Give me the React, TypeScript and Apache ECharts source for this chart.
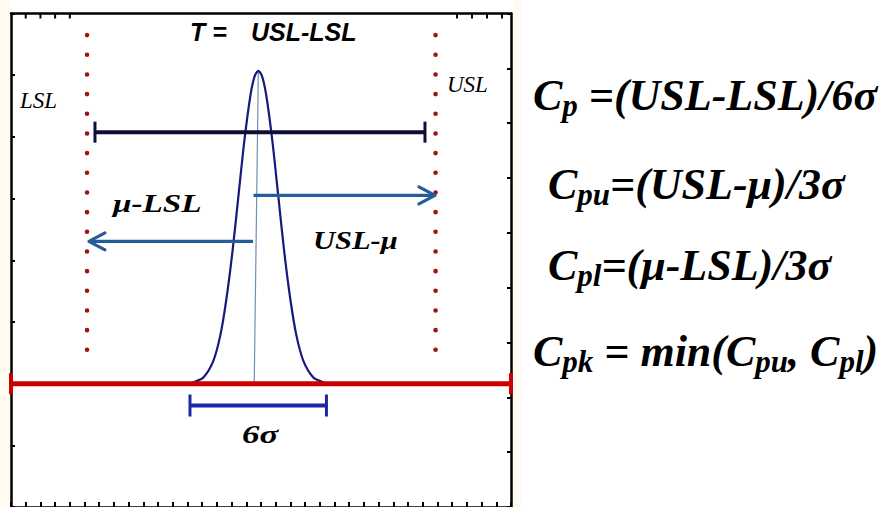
import React, { useEffect, useRef } from "react";
import * as echarts from "echarts";

// ---------- data (axis units) ----------
const xTickMax = 34; // bottom/top axis 0..34
const leftTickMax = 8; // left axis 0..8
const rightTickMax = 9; // right axis 0..9
const topTickValues = [1, 2, 3, 4, 30.33, 31.35, 32.37, 33.39];

// normal curve
const curveX = [12.28, 12.4, 13.08, 13.76, 14.24, 14.64, 15.05, 15.46, 15.87, 16.28, 16.55, 16.82, 17.09, 17.36, 17.77, 18.18, 18.59, 19.0, 19.4, 19.88, 20.56, 21.24, 21.36];
const curveY = [2.0, 2.02, 2.1, 2.37, 2.79, 3.36, 4.12, 5.03, 5.94, 6.67, 6.97, 7.07, 6.97, 6.67, 5.94, 5.03, 4.12, 3.36, 2.79, 2.37, 2.1, 2.02, 2.0];

// mean line: [x, y] top and bottom
const meanLineX = [16.82, 16.54];
const meanLineY = [7.07, 2.0];

// spec limits (dotted verticals)
const limitNames = ["LSL", "USL"];
const limitX = [5.17, 28.87];
const limitTopY = 7.65;
const limitBottomY = 2.26;

// spans [from, to, y]
const toleranceSpan = [5.71, 28.15, 6.077];
const sixSigmaSpan = [12.17, 21.45, 1.645];
const baselineSpan = [0, 34, 2];

// arrows [from, to, y]
const upperArrow = [16.49, 28.83, 5.051];
const lowerArrow = [16.46, 5.3, 4.306];

// texts
const titleLeft = "T =";
const titleRight = "USL-LSL";
const arrowLabels = ["μ-LSL", "USL-μ"];
const sigmaLabel = "6σ";
const formulaLines = [
  "{m|C}{s|p}{m| =(USL-LSL)/6σ}",
  "{m|C}{s|pu}{m|=(USL-μ)/3σ}",
  "{m|C}{s|pl}{m|=(μ-LSL)/3σ}",
  "{m|C}{s|pk}{m| = min(C}{s|pu}{m|, C}{s|pl}{m|)}",
];

// ---------- helpers ----------
function spanSeries(d: number[], color: string, width: number, capHalf: number, capWidth: number, z: number) {
  return {
    type: "custom",
    silent: true,
    z,
    encode: { x: [0, 1], y: 2 },
    data: [d],
    renderItem: (params: any, api: any) => {
      const y = api.value(2);
      const a = api.coord([api.value(0), y]);
      const b = api.coord([api.value(1), y]);
      return {
        type: "group",
        children: [
          { type: "line", shape: { x1: a[0], y1: a[1], x2: b[0], y2: b[1] }, style: { stroke: color, lineWidth: width } },
          { type: "line", shape: { x1: a[0], y1: a[1] - capHalf, x2: a[0], y2: a[1] + capHalf }, style: { stroke: color, lineWidth: capWidth } },
          { type: "line", shape: { x1: b[0], y1: b[1] - capHalf, x2: b[0], y2: b[1] + capHalf }, style: { stroke: color, lineWidth: capWidth } },
        ],
      };
    },
  };
}

function arrowSeries(d: number[], color: string, z: number) {
  return {
    type: "custom",
    silent: true,
    z,
    encode: { x: [0, 1], y: 2 },
    data: [d],
    renderItem: (params: any, api: any) => {
      const y = api.value(2);
      const a = api.coord([api.value(0), y]);
      const b = api.coord([api.value(1), y]);
      const dir = b[0] > a[0] ? 1 : -1;
      const len = 16;
      const half = 8.5;
      return {
        type: "group",
        children: [
          { type: "line", shape: { x1: a[0], y1: a[1], x2: b[0] - dir * 1.5, y2: b[1] }, style: { stroke: color, lineWidth: 3.2 } },
          {
            type: "polyline",
            shape: { points: [[b[0] - dir * len, b[1] - half], [b[0], b[1]], [b[0] - dir * len, b[1] + half]] },
            style: { stroke: color, lineWidth: 3.2, fill: "none", lineJoin: "round", lineCap: "round" },
          },
        ],
      };
    },
  };
}

const hiddenLabel = { show: false };
const noSplit = { show: false };
const frameLine = { show: true, onZero: false, lineStyle: { color: "#000", width: 2.5 } };

export default function App() {
  const ref = useRef<HTMLDivElement>(null);
  useEffect(() => {
    document.body.style.margin = "0";
    if (!ref.current) return;
    const chart = echarts.init(ref.current, undefined, { renderer: "svg" });

    const serifBI = { fontFamily: "Liberation Serif", fontStyle: "italic", fontWeight: "bold" };
    const sansBI = { fontFamily: "Liberation Sans", fontStyle: "italic", fontWeight: "bold" };
    const textEl = (text: string, x: number, y: number, font: any, scaleX = 1) => ({
      type: "text",
      x,
      y,
      scaleX,
      z: 10,
      style: { text, fill: "#000", align: "left", verticalAlign: "middle", ...font },
    });

    const formulaX = [533, 548, 548, 533];
    const formulaTop = [71, 160, 241, 327];

    const option: any = {
      animation: false,
      backgroundColor: "#fff",
      grid: { left: 11, top: 13.5, width: 500, height: 497, containLabel: false },
      xAxis: [
        {
          type: "value", min: 0, max: xTickMax, interval: 1, position: "bottom",
          axisLine: frameLine,
          axisTick: { show: true, inside: true, length: 5, lineStyle: { color: "#000", width: 2 } },
          axisLabel: hiddenLabel, splitLine: noSplit,
        },
        {
          type: "value", min: 0, max: xTickMax, interval: 1, position: "top",
          axisLine: frameLine,
          axisTick: { show: false },
          axisLabel: hiddenLabel, splitLine: noSplit,
        },
      ],
      yAxis: [
        {
          type: "value", min: 0, max: leftTickMax, interval: 1, position: "left",
          axisLine: frameLine,
          axisTick: { show: true, inside: true, length: 4, lineStyle: { color: "#000", width: 2 } },
          axisLabel: hiddenLabel, splitLine: noSplit,
        },
        {
          type: "value", min: 0, max: rightTickMax, interval: 1, position: "right",
          axisLine: frameLine,
          axisTick: { show: true, inside: true, length: 4, lineStyle: { color: "#000", width: 2 } },
          axisLabel: hiddenLabel, splitLine: noSplit,
        },
      ],
      series: [
        {
          type: "custom", name: "topTicks", silent: true, z: 2,
          encode: { x: 0, y: 1 },
          data: topTickValues.map((v) => [v, leftTickMax]),
          renderItem: (params: any, api: any) => {
            const p = api.coord([api.value(0), api.value(1)]);
            return {
              type: "line",
              shape: { x1: p[0], y1: p[1], x2: p[0], y2: p[1] + 5 },
              style: { stroke: "#000", lineWidth: 2 },
            };
          },
        },
        {
          type: "line", name: "mean", silent: true, z: 2, symbol: "none",
          data: meanLineX.map((x, i) => [x, meanLineY[i]]),
          lineStyle: { color: "#6f8fba", width: 1.2 },
        },
        {
          type: "custom", name: "limits", silent: true, z: 2,
          encode: { x: 0, y: [1, 2] },
          data: limitX.map((x) => [x, limitTopY, limitBottomY]),
          renderItem: (params: any, api: any) => {
            const a = api.coord([api.value(0), api.value(1)]);
            const b = api.coord([api.value(0), api.value(2)]);
            return {
              type: "line",
              shape: { x1: a[0], y1: a[1], x2: b[0], y2: b[1] },
              style: { stroke: "#9c1414", lineWidth: 4.6, lineCap: "round", lineDash: [0.01, 19.66] },
            };
          },
        },
        {
          type: "line", name: "curve", silent: true, z: 3, symbol: "none", smooth: 0.3,
          data: curveX.map((x, i) => [x, curveY[i]]),
          lineStyle: { color: "#16197f", width: 2.2 },
        },
        spanSeries(toleranceSpan, "#0e0e36", 4, 10.5, 3, 4),
        arrowSeries(upperArrow, "#255d99", 4),
        arrowSeries(lowerArrow, "#255d99", 4),
        spanSeries(sixSigmaSpan, "#1c27a6", 4, 11, 3, 4),
        spanSeries(baselineSpan, "#cc0000", 5, 10.5, 4, 5),
      ],
      graphic: [
        { type: "rect", z: -1, shape: { x: 0, y: 0, width: 9, height: 507 }, style: { fill: "#fffbf1" } },
        { type: "rect", z: -1, shape: { x: 513, y: 0, width: 8, height: 507 }, style: { fill: "#fffbf1" } },
        textEl(titleLeft, 190, 32, { ...sansBI, fontSize: 25 }),
        textEl(titleRight, 251, 32, { ...sansBI, fontSize: 25 }),
        textEl(limitNames[0], 20, 100, { fontFamily: "Liberation Serif", fontStyle: "italic", fontSize: 23 }),
        textEl(limitNames[1], 447, 84, { fontFamily: "Liberation Serif", fontStyle: "italic", fontSize: 23 }),
        textEl(arrowLabels[0], 113, 204, { ...serifBI, fontSize: 25 }, 1.33),
        textEl(arrowLabels[1], 313, 240, { ...serifBI, fontSize: 25 }, 1.22),
        textEl(sigmaLabel, 242, 435, { ...serifBI, fontSize: 25 }, 1.4),
        ...formulaLines.map((t, i) => ({
          type: "text",
          x: formulaX[i],
          y: formulaTop[i],
          z: 10,
          style: {
            text: t,
            fill: "#000",
            align: "left",
            verticalAlign: "top",
            ...serifBI,
            fontSize: 44,
            rich: {
              m: { ...serifBI, fontSize: 44, lineHeight: 48, fill: "#000" },
              s: { ...serifBI, fontSize: 31, lineHeight: 31, height: 28, verticalAlign: "bottom", fill: "#000" },
            },
          },
        })),
      ],
    };
    chart.setOption(option);
    return () => chart.dispose();
  }, []);
  return <div ref={ref} style={{ position: "fixed", left: 0, top: 0, width: 881, height: 507 }} />;
}
